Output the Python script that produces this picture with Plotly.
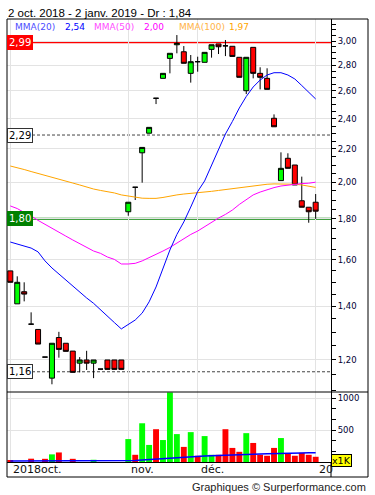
import numpy as np
import plotly.graph_objects as go

# ---------------- data ----------------
open_ = [1.55, 1.41, 1.46, 1.33, 1.31, 1.21, 1.139, 1.28, 1.259, 1.231,
         1.189, 1.20, 1.189, 1.169, 1.20, 1.20, 1.20,
         1.837, 1.971, 2.176, 2.302, 2.545, 2.695, 2.854, 2.968, 2.909, 2.734,
         2.827, 2.822, 2.929, 2.975, 2.959, 2.955, 2.863, 2.601, 2.946, 2.734,
         2.695, 2.403, 2.009, 2.142, 2.101, 1.896, 1.861, 1.888]
high = [1.55, 1.526, 1.50, 1.376, 1.31, 1.21, 1.259, 1.301, 1.259, 1.231,
        1.21, 1.232, 1.20, 1.169, 1.20, 1.20, 1.20,
        1.888, 1.971, 2.21, 2.341, 2.545, 2.734, 2.896, 3.052, 2.957, 2.882,
        2.868, 2.904, 2.968, 2.975, 3.009, 2.955, 2.863, 2.863, 2.946, 2.782,
        2.774, 2.43, 2.179, 2.173, 2.101, 2.032, 1.861, 1.933]
low = [1.50, 1.41, 1.42, 1.33, 1.256, 1.21, 1.119, 1.208, 1.23, 1.158,
       1.158, 1.166, 1.139, 1.169, 1.168, 1.168, 1.168,
       1.816, 1.90, 1.997, 2.302, 2.503, 2.695, 2.734, 2.896, 2.814, 2.662,
       2.747, 2.822, 2.86, 2.89, 2.873, 2.87, 2.703, 2.576, 2.695, 2.611,
       2.611, 2.345, 2.009, 2.081, 1.984, 1.861, 1.78, 1.80]
close = [1.50, 1.50, 1.45, 1.33, 1.256, 1.21, 1.259, 1.237, 1.23, 1.158,
         1.20, 1.189, 1.20, 1.169, 1.168, 1.168, 1.168,
         1.888, 1.971, 2.21, 2.341, 2.545, 2.734, 2.896, 2.98, 2.814, 2.827,
         2.827, 2.904, 2.968, 2.951, 2.959, 2.87, 2.703, 2.863, 2.734, 2.703,
         2.611, 2.345, 2.081, 2.081, 1.984, 1.861, 1.837, 1.84]
volume = [20, 0, 0, 52, 0, 50, 120, 150, 0, 50,
          0, 0, 35, 0, 0, 0, 0,
          360, 113, 608, 268, 515, 345, 1092, 438, 237, 469,
          98, 407, 113, 113, 515, 221, 160, 453, 299, 113,
          98, 221, 376, 129, 98, 144, 113, 82]
vol_ma = [15, 15, 15, 15, 15, 15, 15, 15, 15, 15,
          15, 15, 15, 15, 15, 15, 15,
          22, 25, 32, 40, 48, 55, 65, 72, 78, 85,
          88, 95, 100, 105, 110, 113, 118, 122, 125, 127,
          128, 132, 140, 142, 143, 143, 144, 145]
mma20 = [1.684, 1.675, 1.667, 1.655, 1.637, 1.595, 1.563, 1.536, 1.512, 1.484,
         1.459, 1.434, 1.412, 1.385, 1.360, 1.336, 1.312,
         1.329, 1.346, 1.373, 1.418, 1.480, 1.563, 1.646, 1.721, 1.784, 1.862,
         1.947, 2.007, 2.101, 2.197, 2.297, 2.381, 2.475, 2.558, 2.629, 2.682,
         2.721, 2.739, 2.739, 2.721, 2.690, 2.640, 2.591, 2.54]
mma50 = [1.868, 1.854, 1.833, 1.815, 1.792, 1.771, 1.751, 1.733, 1.713, 1.694,
         1.675, 1.658, 1.641, 1.630, 1.613, 1.602, 1.581,
         1.581, 1.584, 1.595, 1.609, 1.625, 1.641, 1.658, 1.679, 1.699, 1.721,
         1.738, 1.761, 1.781, 1.804, 1.823, 1.846, 1.876, 1.900, 1.928, 1.944,
         1.958, 1.969, 1.978, 1.984, 1.989, 1.992, 1.994, 2.00]
mma100 = [2.095, 2.086, 2.074, 2.062, 2.050, 2.039, 2.027, 2.015, 2.007, 1.995,
          1.984, 1.972, 1.961, 1.953, 1.947, 1.939, 1.928,
          1.921, 1.915, 1.910, 1.909, 1.909, 1.914, 1.922, 1.928, 1.933, 1.936,
          1.940, 1.944, 1.948, 1.953, 1.958, 1.964, 1.969, 1.974, 1.978, 1.984,
          1.988, 1.990, 1.990, 1.990, 1.988, 1.984, 1.978, 1.97]

month_idx = [0, 17, 27, 44]
month_labels = ["2018oct.", "nov.", "déc.", "20"]

price_ticks = [1.20, 1.40, 1.60, 1.80, 2.00, 2.20, 2.40, 2.60, 2.80, 3.00]
price_minor = [1.10, 1.15, 1.25, 1.30, 1.35, 1.45, 1.50, 1.55, 1.65, 1.70, 1.75,
               1.85, 1.90, 1.95, 2.05, 2.10, 2.15, 2.25, 2.30, 2.35, 2.45, 2.50,
               2.55, 2.65, 2.70, 2.75, 2.85, 2.90, 2.95, 3.05, 3.10, 3.15]
vol_ticks = [500, 1000]
vol_minor = [167, 333, 667, 833]

levels = [2.99, 2.29, 1.80, 1.16]
level_kind = ["resistance", "mark", "support", "mark"]

ma_names = ["MMA(20)", "MMA(50)", "MMA(100)"]

# ---------------- styles ----------------
GREEN = "#00ff00"
RED = "#ff0000"
MA_COLORS = ["#0000ff", "#ff00ff", "#ffa500"]
MA_NAME_COLORS = ["#4d4dff", "#ff4dff", "#ffb347"]
GRID = "#e3e3e3"
TICKCOL = "#000033"
FONT = "DejaVu Sans"
LEVEL_STYLE = {
    "resistance": dict(line=dict(color="#ff0000", width=2), bg="#ff0000", fg="white", border=None),
    "support": dict(line=dict(color="#008000", width=2), bg="#008000", fg="white", border=None),
    "mark": dict(line=dict(color="#444444", width=1, dash="3px,2px"), bg="white", fg="black", border="#333333"),
}

# plot area in pixels
L, R, T, B = 7, 331, 19, 462
W, H = R - L, B - T
def px(xp):
    return (xp - L) / W
def py(yp):
    return (B - yp) / H

def fmt(v):
    return f"{v:.2f}".replace(".", ",")

lg = np.log10
sessions = list(range(len(close)))
split = py(392)

fig = go.Figure()

fig.add_trace(go.Candlestick(
    x=sessions, open=lg(open_), high=lg(high), low=lg(low), close=lg(close),
    increasing=dict(fillcolor=GREEN, line=dict(color="black", width=1)),
    decreasing=dict(fillcolor=RED, line=dict(color="black", width=1)),
    whiskerwidth=0, xaxis="x2", yaxis="y", hoverinfo="skip",
))
for vals, col in zip([mma100, mma50, mma20], MA_COLORS[::-1]):
    fig.add_trace(go.Scatter(x=sessions, y=lg(vals), mode="lines",
                             line=dict(color=col, width=1), xaxis="x2", yaxis="y",
                             hoverinfo="skip"))

vol_colors = [GREEN if c > o else RED for o, c in zip(open_, close)]
fig.add_trace(go.Bar(x=sessions, y=volume, marker=dict(color=vol_colors, line=dict(width=0)),
                     xaxis="x", yaxis="y2", hoverinfo="skip"))
fig.add_trace(go.Scatter(x=sessions, y=vol_ma, mode="lines", line=dict(color="#0000ff", width=1.5),
                         xaxis="x", yaxis="y2", hoverinfo="skip"))

xrange = [-0.475, 46.21]
common_x = dict(range=xrange, tickvals=month_idx, showticklabels=False, ticks="",
                showgrid=True, gridcolor=GRID, gridwidth=1, zeroline=False,
                rangeslider=dict(visible=False), fixedrange=True)

shapes = []
annotations = []
for lv, kind in zip(levels, level_kind):
    st = LEVEL_STYLE[kind]
    shapes.append(dict(type="line", xref="paper", yref="y", x0=0, x1=1, y0=lg(lv), y1=lg(lv),
                       line=st["line"], layer="between"))
    annotations.append(dict(xref="paper", yref="y", x=0, y=lg(lv), xanchor="left", yanchor="middle",
                            text=fmt(lv), showarrow=False, bgcolor=st["bg"],
                            bordercolor=st["border"] or st["bg"], borderwidth=1 if st["border"] else 0,
                            borderpad=1 if st["border"] else 2,
                            font=dict(family=FONT, size=10, color=st["fg"])))

# outer frame and separators
shapes.append(dict(type="rect", xref="paper", yref="paper", x0=0, x1=px(368), y0=py(477), y1=1,
                   line=dict(color="black", width=1), layer="above"))
shapes.append(dict(type="line", xref="paper", yref="paper", x0=0, x1=px(368), y0=split, y1=split,
                   line=dict(color="black", width=1), layer="above"))
shapes.append(dict(type="line", xref="paper", yref="paper", x0=1, x1=1, y0=py(477), y1=0,
                   line=dict(color="black", width=1), layer="above"))

# title
annotations.append(dict(xref="paper", yref="paper", x=px(6), y=py(12.5), xanchor="left", yanchor="middle",
                        text=f"2 oct. 2018 - 2 janv. 2019 - Dr : {fmt(close[-1])}", showarrow=False,
                        font=dict(family="Liberation Sans", size=11.5, color="black")))
# MA legend
name_x = [13, 91.5, 176.5]
val_x = [63, 141.5, 226.5]
for name, vals, nc, vc, nx, vx in zip(ma_names, [mma20, mma50, mma100], MA_NAME_COLORS, MA_COLORS, name_x, val_x):
    annotations.append(dict(xref="paper", yref="paper", x=px(nx), y=py(27), xanchor="left", yanchor="middle",
                            text=name, showarrow=False, font=dict(family=FONT, size=9, color=nc)))
    annotations.append(dict(xref="paper", yref="paper", x=px(vx), y=py(27), xanchor="left", yanchor="middle",
                            text=fmt(vals[-1]), showarrow=False, font=dict(family=FONT, size=9, color=vc)))
# month labels
for idx, lab in zip(month_idx, month_labels):
    annotations.append(dict(xref="x", yref="paper", x=idx, y=py(469.5), xanchor="left", yanchor="middle",
                            xshift=1, text=lab, showarrow=False,
                            font=dict(family=FONT, size=11, color="#111111")))
# x1K badge
annotations.append(dict(xref="paper", yref="paper", x=1, y=py(460.5), xanchor="left", yanchor="middle",
                        text="x1K", showarrow=False, bgcolor="#ffff00", bordercolor="black", borderwidth=1,
                        borderpad=0, font=dict(family=FONT, size=9.5, color="black")))
# footer
annotations.append(dict(xref="paper", yref="paper", x=px(368), y=py(487), xanchor="right", yanchor="middle",
                        text="Graphiques © Surperformance.com", showarrow=False,
                        font=dict(family="Liberation Sans", size=11, color="#222222")))

fig.update_layout(
    width=375, height=495,
    margin=dict(l=L, r=375 - R, t=T, b=495 - B, pad=0),
    paper_bgcolor="white", plot_bgcolor="white",
    showlegend=False, boxgap=0.28, boxgroupgap=0, bargap=0.15,
    xaxis=dict(domain=[0, 1], anchor="y2", showline=True, linecolor="black", linewidth=1, **common_x),
    xaxis2=dict(domain=[0, 1], anchor="y", matches="x", showline=False, **common_x),
    yaxis=dict(domain=[split, 1], anchor="x2", side="right",
               range=[lg(1.0945), lg(3.196)],
               tickvals=lg(price_ticks), ticktext=[fmt(v) for v in price_ticks],
               ticks="outside", ticklen=4, tickcolor="black", tickwidth=1,
               showline=True, linecolor="black", linewidth=1,
               showgrid=True, gridcolor=GRID, zeroline=False, fixedrange=True,
               tickfont=dict(family=FONT, size=8.5, color=TICKCOL),
               minor=dict(tickvals=lg(price_minor), ticks="outside", ticklen=4,
                          tickcolor="black", showgrid=False)),
    yaxis2=dict(domain=[0, split], anchor="x", side="right", range=[0, 1099],
                tickvals=vol_ticks, ticktext=[str(v) for v in vol_ticks],
                ticks="outside", ticklen=4, tickcolor="black", tickwidth=1,
                showline=True, linecolor="black", linewidth=1,
                showgrid=True, gridcolor=GRID, zeroline=False, fixedrange=True,
                tickfont=dict(family=FONT, size=8.5, color=TICKCOL),
                minor=dict(tickvals=vol_minor, ticks="outside", ticklen=4,
                           tickcolor="black", showgrid=False)),
    shapes=shapes, annotations=annotations,
)

fig.write_html("out.html", config={"displayModeBar": False},
               post_script="document.body.style.margin='0';document.body.style.overflow='hidden';")
